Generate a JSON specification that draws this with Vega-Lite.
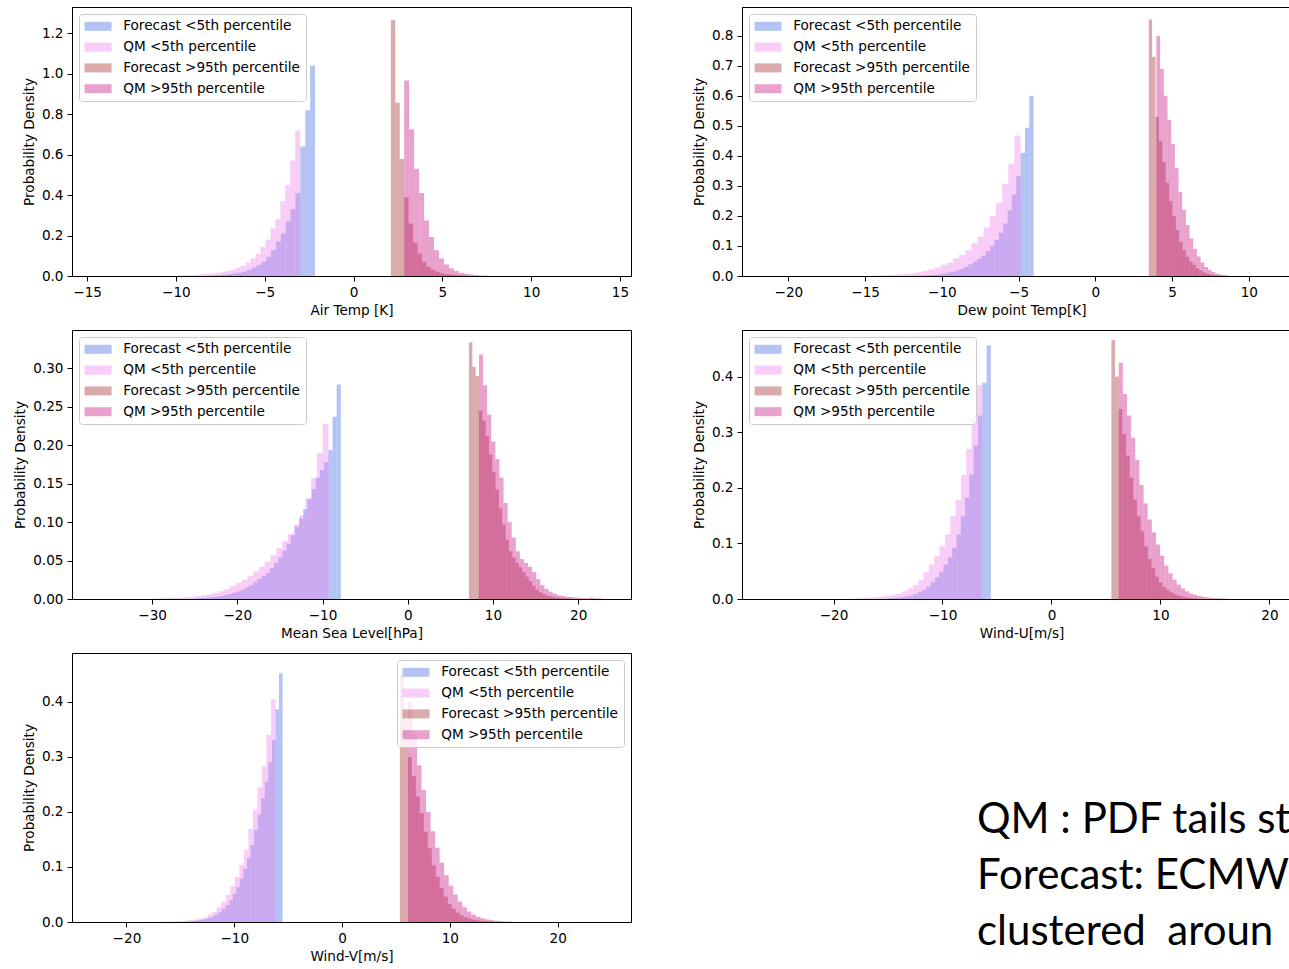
{
"$schema": "https://vega.github.io/schema/vega-lite/v6.json",
"background": "white",
"padding": {"left": 13, "top": 6, "right": 0, "bottom": 0},
"bounds": "flush",
"columns": 2,
"spacing": {"row": 54, "column": 111},
"resolve": {"scale": {"x": "independent", "y": "independent", "color": "independent"}, "legend": {"color": "independent"}},
"datasets": {
"air": [
{"s":"F5","a":-8.22,"b":-7.945,"d":0.002},{"s":"F5","a":-7.945,"b":-7.67,"d":0.003},{"s":"F5","a":-7.67,"b":-7.395,"d":0.004},{"s":"F5","a":-7.395,"b":-7.12,"d":0.006},{"s":"F5","a":-7.12,"b":-6.845,"d":0.009},{"s":"F5","a":-6.845,"b":-6.57,"d":0.012},{"s":"F5","a":-6.57,"b":-6.295,"d":0.016},{"s":"F5","a":-6.295,"b":-6.02,"d":0.021},{"s":"F5","a":-6.02,"b":-5.745,"d":0.03},{"s":"F5","a":-5.745,"b":-5.47,"d":0.041},{"s":"F5","a":-5.47,"b":-5.195,"d":0.054},{"s":"F5","a":-5.195,"b":-4.92,"d":0.07},{"s":"F5","a":-4.92,"b":-4.645,"d":0.095},{"s":"F5","a":-4.645,"b":-4.37,"d":0.128},{"s":"F5","a":-4.37,"b":-4.095,"d":0.17},{"s":"F5","a":-4.095,"b":-3.82,"d":0.21},{"s":"F5","a":-3.82,"b":-3.545,"d":0.27},{"s":"F5","a":-3.545,"b":-3.27,"d":0.33},{"s":"F5","a":-3.27,"b":-2.995,"d":0.41},{"s":"F5","a":-2.995,"b":-2.72,"d":0.64},{"s":"F5","a":-2.72,"b":-2.445,"d":0.82},{"s":"F5","a":-2.445,"b":-2.17,"d":1.04},
{"s":"Q5","a":-10.28,"b":-10.0,"d":0.001},{"s":"Q5","a":-10.0,"b":-9.72,"d":0.002},{"s":"Q5","a":-9.72,"b":-9.44,"d":0.003},{"s":"Q5","a":-9.44,"b":-9.16,"d":0.004},{"s":"Q5","a":-9.16,"b":-8.88,"d":0.005},{"s":"Q5","a":-8.88,"b":-8.6,"d":0.007},{"s":"Q5","a":-8.6,"b":-8.32,"d":0.009},{"s":"Q5","a":-8.32,"b":-8.04,"d":0.011},{"s":"Q5","a":-8.04,"b":-7.76,"d":0.013},{"s":"Q5","a":-7.76,"b":-7.48,"d":0.016},{"s":"Q5","a":-7.48,"b":-7.2,"d":0.02},{"s":"Q5","a":-7.2,"b":-6.92,"d":0.025},{"s":"Q5","a":-6.92,"b":-6.64,"d":0.031},{"s":"Q5","a":-6.64,"b":-6.36,"d":0.04},{"s":"Q5","a":-6.36,"b":-6.08,"d":0.051},{"s":"Q5","a":-6.08,"b":-5.8,"d":0.066},{"s":"Q5","a":-5.8,"b":-5.52,"d":0.087},{"s":"Q5","a":-5.52,"b":-5.24,"d":0.11},{"s":"Q5","a":-5.24,"b":-4.96,"d":0.144},{"s":"Q5","a":-4.96,"b":-4.68,"d":0.18},{"s":"Q5","a":-4.68,"b":-4.4,"d":0.235},{"s":"Q5","a":-4.4,"b":-4.12,"d":0.28},{"s":"Q5","a":-4.12,"b":-3.84,"d":0.37},{"s":"Q5","a":-3.84,"b":-3.56,"d":0.45},{"s":"Q5","a":-3.56,"b":-3.28,"d":0.57},{"s":"Q5","a":-3.28,"b":-3.0,"d":0.72},
{"s":"F95","a":2.1,"b":2.35,"d":1.265},{"s":"F95","a":2.35,"b":2.6,"d":0.857},{"s":"F95","a":2.6,"b":2.85,"d":0.579},{"s":"F95","a":2.85,"b":3.1,"d":0.39},{"s":"F95","a":3.1,"b":3.35,"d":0.26},{"s":"F95","a":3.35,"b":3.6,"d":0.164},{"s":"F95","a":3.6,"b":3.85,"d":0.111},{"s":"F95","a":3.85,"b":4.1,"d":0.07},{"s":"F95","a":4.1,"b":4.35,"d":0.046},{"s":"F95","a":4.35,"b":4.6,"d":0.03},{"s":"F95","a":4.6,"b":4.85,"d":0.021},{"s":"F95","a":4.85,"b":5.1,"d":0.014},{"s":"F95","a":5.1,"b":5.35,"d":0.01},{"s":"F95","a":5.35,"b":5.6,"d":0.007},{"s":"F95","a":5.6,"b":5.85,"d":0.005},{"s":"F95","a":5.85,"b":6.1,"d":0.003},{"s":"F95","a":6.1,"b":6.35,"d":0.002},
{"s":"Q95","a":2.85,"b":3.13,"d":0.967},{"s":"Q95","a":3.13,"b":3.41,"d":0.726},{"s":"Q95","a":3.41,"b":3.69,"d":0.53},{"s":"Q95","a":3.69,"b":3.97,"d":0.41},{"s":"Q95","a":3.97,"b":4.25,"d":0.275},{"s":"Q95","a":4.25,"b":4.53,"d":0.193},{"s":"Q95","a":4.53,"b":4.81,"d":0.128},{"s":"Q95","a":4.81,"b":5.09,"d":0.087},{"s":"Q95","a":5.09,"b":5.37,"d":0.057},{"s":"Q95","a":5.37,"b":5.65,"d":0.038},{"s":"Q95","a":5.65,"b":5.93,"d":0.025},{"s":"Q95","a":5.93,"b":6.21,"d":0.016},{"s":"Q95","a":6.21,"b":6.49,"d":0.011},{"s":"Q95","a":6.49,"b":6.77,"d":0.008},{"s":"Q95","a":6.77,"b":7.05,"d":0.005},{"s":"Q95","a":7.05,"b":7.33,"d":0.003},{"s":"Q95","a":7.33,"b":7.61,"d":0.002}
],
"dew": [
{"s":"F5","a":-11.944,"b":-11.661,"d":0.001},{"s":"F5","a":-11.661,"b":-11.378,"d":0.001},{"s":"F5","a":-11.378,"b":-11.095,"d":0.0015},{"s":"F5","a":-11.095,"b":-10.812,"d":0.0025},{"s":"F5","a":-10.812,"b":-10.529,"d":0.0035},{"s":"F5","a":-10.529,"b":-10.246,"d":0.0045},{"s":"F5","a":-10.246,"b":-9.963,"d":0.006},{"s":"F5","a":-9.963,"b":-9.68,"d":0.008},{"s":"F5","a":-9.68,"b":-9.397,"d":0.011},{"s":"F5","a":-9.397,"b":-9.114,"d":0.014},{"s":"F5","a":-9.114,"b":-8.831,"d":0.019},{"s":"F5","a":-8.831,"b":-8.548,"d":0.024},{"s":"F5","a":-8.548,"b":-8.265,"d":0.031},{"s":"F5","a":-8.265,"b":-7.982,"d":0.039},{"s":"F5","a":-7.982,"b":-7.699,"d":0.047},{"s":"F5","a":-7.699,"b":-7.416,"d":0.057},{"s":"F5","a":-7.416,"b":-7.133,"d":0.068},{"s":"F5","a":-7.133,"b":-6.85,"d":0.083},{"s":"F5","a":-6.85,"b":-6.567,"d":0.1},{"s":"F5","a":-6.567,"b":-6.284,"d":0.12},{"s":"F5","a":-6.284,"b":-6.001,"d":0.144},{"s":"F5","a":-6.001,"b":-5.718,"d":0.175},{"s":"F5","a":-5.718,"b":-5.435,"d":0.219},{"s":"F5","a":-5.435,"b":-5.152,"d":0.272},{"s":"F5","a":-5.152,"b":-4.869,"d":0.333},{"s":"F5","a":-4.869,"b":-4.586,"d":0.41},{"s":"F5","a":-4.586,"b":-4.303,"d":0.494},{"s":"F5","a":-4.303,"b":-4.02,"d":0.6},
{"s":"Q5","a":-14.47,"b":-14.07,"d":0.002},{"s":"Q5","a":-14.07,"b":-13.67,"d":0.002},{"s":"Q5","a":-13.67,"b":-13.27,"d":0.003},{"s":"Q5","a":-13.27,"b":-12.87,"d":0.004},{"s":"Q5","a":-12.87,"b":-12.47,"d":0.005},{"s":"Q5","a":-12.47,"b":-12.07,"d":0.007},{"s":"Q5","a":-12.07,"b":-11.67,"d":0.009},{"s":"Q5","a":-11.67,"b":-11.27,"d":0.012},{"s":"Q5","a":-11.27,"b":-10.87,"d":0.017},{"s":"Q5","a":-10.87,"b":-10.47,"d":0.022},{"s":"Q5","a":-10.47,"b":-10.07,"d":0.028},{"s":"Q5","a":-10.07,"b":-9.67,"d":0.037},{"s":"Q5","a":-9.67,"b":-9.27,"d":0.044},{"s":"Q5","a":-9.27,"b":-8.87,"d":0.059},{"s":"Q5","a":-8.87,"b":-8.47,"d":0.07},{"s":"Q5","a":-8.47,"b":-8.07,"d":0.086},{"s":"Q5","a":-8.07,"b":-7.67,"d":0.109},{"s":"Q5","a":-7.67,"b":-7.27,"d":0.131},{"s":"Q5","a":-7.27,"b":-6.87,"d":0.162},{"s":"Q5","a":-6.87,"b":-6.47,"d":0.2},{"s":"Q5","a":-6.47,"b":-6.07,"d":0.244},{"s":"Q5","a":-6.07,"b":-5.67,"d":0.306},{"s":"Q5","a":-5.67,"b":-5.27,"d":0.374},{"s":"Q5","a":-5.27,"b":-4.87,"d":0.468},
{"s":"F95","a":3.48,"b":3.7,"d":0.854},{"s":"F95","a":3.7,"b":3.92,"d":0.73},{"s":"F95","a":3.92,"b":4.14,"d":0.53},{"s":"F95","a":4.14,"b":4.36,"d":0.45},{"s":"F95","a":4.36,"b":4.58,"d":0.38},{"s":"F95","a":4.58,"b":4.8,"d":0.31},{"s":"F95","a":4.8,"b":5.02,"d":0.25},{"s":"F95","a":5.02,"b":5.24,"d":0.2},{"s":"F95","a":5.24,"b":5.46,"d":0.153},{"s":"F95","a":5.46,"b":5.68,"d":0.114},{"s":"F95","a":5.68,"b":5.9,"d":0.086},{"s":"F95","a":5.9,"b":6.12,"d":0.064},{"s":"F95","a":6.12,"b":6.34,"d":0.048},{"s":"F95","a":6.34,"b":6.56,"d":0.037},{"s":"F95","a":6.56,"b":6.78,"d":0.026},{"s":"F95","a":6.78,"b":7.0,"d":0.018},{"s":"F95","a":7.0,"b":7.22,"d":0.012},{"s":"F95","a":7.22,"b":7.44,"d":0.008},{"s":"F95","a":7.44,"b":7.66,"d":0.005},{"s":"F95","a":7.66,"b":7.88,"d":0.003},{"s":"F95","a":7.88,"b":8.1,"d":0.002},
{"s":"Q95","a":3.98,"b":4.22,"d":0.8},{"s":"Q95","a":4.22,"b":4.46,"d":0.69},{"s":"Q95","a":4.46,"b":4.7,"d":0.6},{"s":"Q95","a":4.7,"b":4.94,"d":0.52},{"s":"Q95","a":4.94,"b":5.18,"d":0.44},{"s":"Q95","a":5.18,"b":5.42,"d":0.36},{"s":"Q95","a":5.42,"b":5.66,"d":0.28},{"s":"Q95","a":5.66,"b":5.9,"d":0.22},{"s":"Q95","a":5.9,"b":6.14,"d":0.17},{"s":"Q95","a":6.14,"b":6.38,"d":0.125},{"s":"Q95","a":6.38,"b":6.62,"d":0.09},{"s":"Q95","a":6.62,"b":6.86,"d":0.065},{"s":"Q95","a":6.86,"b":7.1,"d":0.045},{"s":"Q95","a":7.1,"b":7.34,"d":0.03},{"s":"Q95","a":7.34,"b":7.58,"d":0.02},{"s":"Q95","a":7.58,"b":7.82,"d":0.013},{"s":"Q95","a":7.82,"b":8.06,"d":0.008},{"s":"Q95","a":8.06,"b":8.3,"d":0.005},{"s":"Q95","a":8.3,"b":8.54,"d":0.003},{"s":"Q95","a":8.54,"b":8.78,"d":0.002}
],
"msl": [
{"s":"F5","a":-25.0,"b":-24.51,"d":0.0008},{"s":"F5","a":-24.51,"b":-24.02,"d":0.0011},{"s":"F5","a":-24.02,"b":-23.53,"d":0.0015},{"s":"F5","a":-23.53,"b":-23.04,"d":0.002},{"s":"F5","a":-23.04,"b":-22.55,"d":0.0025},{"s":"F5","a":-22.55,"b":-22.06,"d":0.0032},{"s":"F5","a":-22.06,"b":-21.57,"d":0.004},{"s":"F5","a":-21.57,"b":-21.08,"d":0.005},{"s":"F5","a":-21.08,"b":-20.59,"d":0.0065},{"s":"F5","a":-20.59,"b":-20.1,"d":0.008},{"s":"F5","a":-20.1,"b":-19.61,"d":0.01},{"s":"F5","a":-19.61,"b":-19.12,"d":0.012},{"s":"F5","a":-19.12,"b":-18.63,"d":0.015},{"s":"F5","a":-18.63,"b":-18.14,"d":0.018},{"s":"F5","a":-18.14,"b":-17.65,"d":0.022},{"s":"F5","a":-17.65,"b":-17.16,"d":0.026},{"s":"F5","a":-17.16,"b":-16.67,"d":0.03},{"s":"F5","a":-16.67,"b":-16.18,"d":0.034},{"s":"F5","a":-16.18,"b":-15.69,"d":0.04},{"s":"F5","a":-15.69,"b":-15.2,"d":0.047},{"s":"F5","a":-15.2,"b":-14.71,"d":0.054},{"s":"F5","a":-14.71,"b":-14.22,"d":0.063},{"s":"F5","a":-14.22,"b":-13.73,"d":0.072},{"s":"F5","a":-13.73,"b":-13.24,"d":0.083},{"s":"F5","a":-13.24,"b":-12.75,"d":0.094},{"s":"F5","a":-12.75,"b":-12.26,"d":0.105},{"s":"F5","a":-12.26,"b":-11.77,"d":0.117},{"s":"F5","a":-11.77,"b":-11.28,"d":0.13},{"s":"F5","a":-11.28,"b":-10.79,"d":0.143},{"s":"F5","a":-10.79,"b":-10.3,"d":0.158},{"s":"F5","a":-10.3,"b":-9.81,"d":0.168},{"s":"F5","a":-9.81,"b":-9.32,"d":0.178},{"s":"F5","a":-9.32,"b":-8.83,"d":0.194},{"s":"F5","a":-8.83,"b":-8.34,"d":0.237},{"s":"F5","a":-8.34,"b":-7.85,"d":0.279},
{"s":"Q5","a":-29.7,"b":-29.02,"d":0.0006},{"s":"Q5","a":-29.02,"b":-28.34,"d":0.0008},{"s":"Q5","a":-28.34,"b":-27.66,"d":0.001},{"s":"Q5","a":-27.66,"b":-26.98,"d":0.0013},{"s":"Q5","a":-26.98,"b":-26.3,"d":0.0017},{"s":"Q5","a":-26.3,"b":-25.62,"d":0.0022},{"s":"Q5","a":-25.62,"b":-24.94,"d":0.0028},{"s":"Q5","a":-24.94,"b":-24.26,"d":0.0036},{"s":"Q5","a":-24.26,"b":-23.58,"d":0.0046},{"s":"Q5","a":-23.58,"b":-22.9,"d":0.006},{"s":"Q5","a":-22.9,"b":-22.22,"d":0.0078},{"s":"Q5","a":-22.22,"b":-21.54,"d":0.01},{"s":"Q5","a":-21.54,"b":-20.86,"d":0.013},{"s":"Q5","a":-20.86,"b":-20.18,"d":0.017},{"s":"Q5","a":-20.18,"b":-19.5,"d":0.021},{"s":"Q5","a":-19.5,"b":-18.82,"d":0.025},{"s":"Q5","a":-18.82,"b":-18.14,"d":0.03},{"s":"Q5","a":-18.14,"b":-17.46,"d":0.036},{"s":"Q5","a":-17.46,"b":-16.78,"d":0.042},{"s":"Q5","a":-16.78,"b":-16.1,"d":0.049},{"s":"Q5","a":-16.1,"b":-15.42,"d":0.057},{"s":"Q5","a":-15.42,"b":-14.74,"d":0.066},{"s":"Q5","a":-14.74,"b":-14.06,"d":0.075},{"s":"Q5","a":-14.06,"b":-13.38,"d":0.085},{"s":"Q5","a":-13.38,"b":-12.7,"d":0.097},{"s":"Q5","a":-12.7,"b":-12.02,"d":0.109},{"s":"Q5","a":-12.02,"b":-11.34,"d":0.131},{"s":"Q5","a":-11.34,"b":-10.66,"d":0.157},{"s":"Q5","a":-10.66,"b":-9.98,"d":0.19},{"s":"Q5","a":-9.98,"b":-9.3,"d":0.228},
{"s":"F95","a":7.19,"b":7.58,"d":0.334},{"s":"F95","a":7.58,"b":7.97,"d":0.302},{"s":"F95","a":7.97,"b":8.36,"d":0.29},{"s":"F95","a":8.36,"b":8.75,"d":0.245},{"s":"F95","a":8.75,"b":9.14,"d":0.232},{"s":"F95","a":9.14,"b":9.53,"d":0.212},{"s":"F95","a":9.53,"b":9.92,"d":0.188},{"s":"F95","a":9.92,"b":10.31,"d":0.165},{"s":"F95","a":10.31,"b":10.7,"d":0.142},{"s":"F95","a":10.7,"b":11.09,"d":0.118},{"s":"F95","a":11.09,"b":11.48,"d":0.097},{"s":"F95","a":11.48,"b":11.87,"d":0.077},{"s":"F95","a":11.87,"b":12.26,"d":0.062},{"s":"F95","a":12.26,"b":12.65,"d":0.054},{"s":"F95","a":12.65,"b":13.04,"d":0.047},{"s":"F95","a":13.04,"b":13.43,"d":0.041},{"s":"F95","a":13.43,"b":13.82,"d":0.035},{"s":"F95","a":13.82,"b":14.21,"d":0.029},{"s":"F95","a":14.21,"b":14.6,"d":0.023},{"s":"F95","a":14.6,"b":14.99,"d":0.017},{"s":"F95","a":14.99,"b":15.38,"d":0.012},{"s":"F95","a":15.38,"b":15.77,"d":0.0088},{"s":"F95","a":15.77,"b":16.16,"d":0.0065},{"s":"F95","a":16.16,"b":16.55,"d":0.0048},{"s":"F95","a":16.55,"b":16.94,"d":0.0036},{"s":"F95","a":16.94,"b":17.33,"d":0.0027},{"s":"F95","a":17.33,"b":17.72,"d":0.002},{"s":"F95","a":17.72,"b":18.11,"d":0.0015},{"s":"F95","a":18.11,"b":18.5,"d":0.001},{"s":"F95","a":18.5,"b":18.89,"d":0.0007},{"s":"F95","a":18.89,"b":19.28,"d":0.0005},
{"s":"Q95","a":8.36,"b":8.84,"d":0.318},{"s":"Q95","a":8.84,"b":9.32,"d":0.278},{"s":"Q95","a":9.32,"b":9.8,"d":0.24},{"s":"Q95","a":9.8,"b":10.28,"d":0.205},{"s":"Q95","a":10.28,"b":10.76,"d":0.182},{"s":"Q95","a":10.76,"b":11.24,"d":0.158},{"s":"Q95","a":11.24,"b":11.72,"d":0.125},{"s":"Q95","a":11.72,"b":12.2,"d":0.1},{"s":"Q95","a":12.2,"b":12.68,"d":0.08},{"s":"Q95","a":12.68,"b":13.16,"d":0.062},{"s":"Q95","a":13.16,"b":13.64,"d":0.052},{"s":"Q95","a":13.64,"b":14.12,"d":0.047},{"s":"Q95","a":14.12,"b":14.6,"d":0.042},{"s":"Q95","a":14.6,"b":15.08,"d":0.035},{"s":"Q95","a":15.08,"b":15.56,"d":0.026},{"s":"Q95","a":15.56,"b":16.04,"d":0.018},{"s":"Q95","a":16.04,"b":16.52,"d":0.013},{"s":"Q95","a":16.52,"b":17.0,"d":0.0095},{"s":"Q95","a":17.0,"b":17.48,"d":0.007},{"s":"Q95","a":17.48,"b":17.96,"d":0.005},{"s":"Q95","a":17.96,"b":18.44,"d":0.004},{"s":"Q95","a":18.44,"b":18.92,"d":0.003},{"s":"Q95","a":18.92,"b":19.4,"d":0.0025},{"s":"Q95","a":19.4,"b":19.88,"d":0.002},{"s":"Q95","a":19.88,"b":20.36,"d":0.0016},{"s":"Q95","a":20.36,"b":20.84,"d":0.0012},{"s":"Q95","a":20.84,"b":21.32,"d":0.001},{"s":"Q95","a":21.32,"b":21.8,"d":0.0018},{"s":"Q95","a":21.8,"b":22.28,"d":0.0008},{"s":"Q95","a":22.28,"b":22.76,"d":0.0008}
],
"windu": [
{"s":"F5","a":-15.04,"b":-14.645,"d":0.001},{"s":"F5","a":-14.645,"b":-14.25,"d":0.0015},{"s":"F5","a":-14.25,"b":-13.855,"d":0.002},{"s":"F5","a":-13.855,"b":-13.46,"d":0.003},{"s":"F5","a":-13.46,"b":-13.065,"d":0.0045},{"s":"F5","a":-13.065,"b":-12.67,"d":0.006},{"s":"F5","a":-12.67,"b":-12.275,"d":0.0085},{"s":"F5","a":-12.275,"b":-11.88,"d":0.012},{"s":"F5","a":-11.88,"b":-11.485,"d":0.016},{"s":"F5","a":-11.485,"b":-11.09,"d":0.022},{"s":"F5","a":-11.09,"b":-10.695,"d":0.03},{"s":"F5","a":-10.695,"b":-10.3,"d":0.039},{"s":"F5","a":-10.3,"b":-9.905,"d":0.049},{"s":"F5","a":-9.905,"b":-9.51,"d":0.062},{"s":"F5","a":-9.51,"b":-9.115,"d":0.075},{"s":"F5","a":-9.115,"b":-8.72,"d":0.092},{"s":"F5","a":-8.72,"b":-8.325,"d":0.116},{"s":"F5","a":-8.325,"b":-7.93,"d":0.149},{"s":"F5","a":-7.93,"b":-7.535,"d":0.182},{"s":"F5","a":-7.535,"b":-7.14,"d":0.224},{"s":"F5","a":-7.14,"b":-6.745,"d":0.276},{"s":"F5","a":-6.745,"b":-6.35,"d":0.33},{"s":"F5","a":-6.35,"b":-5.955,"d":0.389},{"s":"F5","a":-5.955,"b":-5.56,"d":0.456},
{"s":"Q5","a":-18.11,"b":-17.62,"d":0.001},{"s":"Q5","a":-17.62,"b":-17.13,"d":0.0013},{"s":"Q5","a":-17.13,"b":-16.64,"d":0.0018},{"s":"Q5","a":-16.64,"b":-16.15,"d":0.0024},{"s":"Q5","a":-16.15,"b":-15.66,"d":0.0033},{"s":"Q5","a":-15.66,"b":-15.17,"d":0.0045},{"s":"Q5","a":-15.17,"b":-14.68,"d":0.006},{"s":"Q5","a":-14.68,"b":-14.19,"d":0.0078},{"s":"Q5","a":-14.19,"b":-13.7,"d":0.01},{"s":"Q5","a":-13.7,"b":-13.21,"d":0.014},{"s":"Q5","a":-13.21,"b":-12.72,"d":0.019},{"s":"Q5","a":-12.72,"b":-12.23,"d":0.025},{"s":"Q5","a":-12.23,"b":-11.74,"d":0.034},{"s":"Q5","a":-11.74,"b":-11.25,"d":0.048},{"s":"Q5","a":-11.25,"b":-10.76,"d":0.062},{"s":"Q5","a":-10.76,"b":-10.27,"d":0.077},{"s":"Q5","a":-10.27,"b":-9.78,"d":0.095},{"s":"Q5","a":-9.78,"b":-9.29,"d":0.116},{"s":"Q5","a":-9.29,"b":-8.8,"d":0.149},{"s":"Q5","a":-8.8,"b":-8.31,"d":0.178},{"s":"Q5","a":-8.31,"b":-7.82,"d":0.223},{"s":"Q5","a":-7.82,"b":-7.33,"d":0.27},{"s":"Q5","a":-7.33,"b":-6.84,"d":0.33},{"s":"Q5","a":-6.84,"b":-6.35,"d":0.385},
{"s":"F95","a":5.5,"b":5.835,"d":0.466},{"s":"F95","a":5.835,"b":6.17,"d":0.4},{"s":"F95","a":6.17,"b":6.505,"d":0.342},{"s":"F95","a":6.505,"b":6.84,"d":0.297},{"s":"F95","a":6.84,"b":7.175,"d":0.258},{"s":"F95","a":7.175,"b":7.51,"d":0.218},{"s":"F95","a":7.51,"b":7.845,"d":0.179},{"s":"F95","a":7.845,"b":8.18,"d":0.149},{"s":"F95","a":8.18,"b":8.515,"d":0.122},{"s":"F95","a":8.515,"b":8.85,"d":0.095},{"s":"F95","a":8.85,"b":9.185,"d":0.072},{"s":"F95","a":9.185,"b":9.52,"d":0.056},{"s":"F95","a":9.52,"b":9.855,"d":0.04},{"s":"F95","a":9.855,"b":10.19,"d":0.03},{"s":"F95","a":10.19,"b":10.525,"d":0.022},{"s":"F95","a":10.525,"b":10.86,"d":0.016},{"s":"F95","a":10.86,"b":11.195,"d":0.012},{"s":"F95","a":11.195,"b":11.53,"d":0.0085},{"s":"F95","a":11.53,"b":11.865,"d":0.006},{"s":"F95","a":11.865,"b":12.2,"d":0.0045},{"s":"F95","a":12.2,"b":12.535,"d":0.003},{"s":"F95","a":12.535,"b":12.87,"d":0.002},{"s":"F95","a":12.87,"b":13.205,"d":0.0015},{"s":"F95","a":13.205,"b":13.54,"d":0.001},
{"s":"Q95","a":6.17,"b":6.55,"d":0.425},{"s":"Q95","a":6.55,"b":6.93,"d":0.369},{"s":"Q95","a":6.93,"b":7.31,"d":0.33},{"s":"Q95","a":7.31,"b":7.69,"d":0.29},{"s":"Q95","a":7.69,"b":8.07,"d":0.25},{"s":"Q95","a":8.07,"b":8.45,"d":0.205},{"s":"Q95","a":8.45,"b":8.83,"d":0.172},{"s":"Q95","a":8.83,"b":9.21,"d":0.143},{"s":"Q95","a":9.21,"b":9.59,"d":0.12},{"s":"Q95","a":9.59,"b":9.97,"d":0.098},{"s":"Q95","a":9.97,"b":10.35,"d":0.078},{"s":"Q95","a":10.35,"b":10.73,"d":0.06},{"s":"Q95","a":10.73,"b":11.11,"d":0.046},{"s":"Q95","a":11.11,"b":11.49,"d":0.035},{"s":"Q95","a":11.49,"b":11.87,"d":0.026},{"s":"Q95","a":11.87,"b":12.25,"d":0.019},{"s":"Q95","a":12.25,"b":12.63,"d":0.014},{"s":"Q95","a":12.63,"b":13.01,"d":0.01},{"s":"Q95","a":13.01,"b":13.39,"d":0.0075},{"s":"Q95","a":13.39,"b":13.77,"d":0.0055},{"s":"Q95","a":13.77,"b":14.15,"d":0.004},{"s":"Q95","a":14.15,"b":14.53,"d":0.003},{"s":"Q95","a":14.53,"b":14.91,"d":0.002},{"s":"Q95","a":14.91,"b":15.29,"d":0.0015},{"s":"Q95","a":15.29,"b":15.67,"d":0.001},{"s":"Q95","a":15.67,"b":16.05,"d":0.0008}
],
"windv": [
{"s":"F5","a":-14.43,"b":-14.1,"d":0.001},{"s":"F5","a":-14.1,"b":-13.77,"d":0.0015},{"s":"F5","a":-13.77,"b":-13.44,"d":0.002},{"s":"F5","a":-13.44,"b":-13.11,"d":0.003},{"s":"F5","a":-13.11,"b":-12.78,"d":0.004},{"s":"F5","a":-12.78,"b":-12.45,"d":0.0055},{"s":"F5","a":-12.45,"b":-12.12,"d":0.0075},{"s":"F5","a":-12.12,"b":-11.79,"d":0.01},{"s":"F5","a":-11.79,"b":-11.46,"d":0.014},{"s":"F5","a":-11.46,"b":-11.13,"d":0.018},{"s":"F5","a":-11.13,"b":-10.8,"d":0.024},{"s":"F5","a":-10.8,"b":-10.47,"d":0.031},{"s":"F5","a":-10.47,"b":-10.14,"d":0.04},{"s":"F5","a":-10.14,"b":-9.81,"d":0.051},{"s":"F5","a":-9.81,"b":-9.48,"d":0.064},{"s":"F5","a":-9.48,"b":-9.15,"d":0.079},{"s":"F5","a":-9.15,"b":-8.82,"d":0.097},{"s":"F5","a":-8.82,"b":-8.49,"d":0.117},{"s":"F5","a":-8.49,"b":-8.16,"d":0.14},{"s":"F5","a":-8.16,"b":-7.83,"d":0.167},{"s":"F5","a":-7.83,"b":-7.5,"d":0.195},{"s":"F5","a":-7.5,"b":-7.17,"d":0.225},{"s":"F5","a":-7.17,"b":-6.84,"d":0.255},{"s":"F5","a":-6.84,"b":-6.51,"d":0.29},{"s":"F5","a":-6.51,"b":-6.18,"d":0.33},{"s":"F5","a":-6.18,"b":-5.85,"d":0.387},{"s":"F5","a":-5.85,"b":-5.52,"d":0.452},
{"s":"Q5","a":-16.67,"b":-16.25,"d":0.0006},{"s":"Q5","a":-16.25,"b":-15.83,"d":0.0008},{"s":"Q5","a":-15.83,"b":-15.41,"d":0.001},{"s":"Q5","a":-15.41,"b":-14.99,"d":0.0014},{"s":"Q5","a":-14.99,"b":-14.57,"d":0.0019},{"s":"Q5","a":-14.57,"b":-14.15,"d":0.0026},{"s":"Q5","a":-14.15,"b":-13.73,"d":0.0036},{"s":"Q5","a":-13.73,"b":-13.31,"d":0.0048},{"s":"Q5","a":-13.31,"b":-12.89,"d":0.0065},{"s":"Q5","a":-12.89,"b":-12.47,"d":0.009},{"s":"Q5","a":-12.47,"b":-12.05,"d":0.0134},{"s":"Q5","a":-12.05,"b":-11.63,"d":0.018},{"s":"Q5","a":-11.63,"b":-11.21,"d":0.027},{"s":"Q5","a":-11.21,"b":-10.79,"d":0.0365},{"s":"Q5","a":-10.79,"b":-10.37,"d":0.049},{"s":"Q5","a":-10.37,"b":-9.95,"d":0.066},{"s":"Q5","a":-9.95,"b":-9.53,"d":0.082},{"s":"Q5","a":-9.53,"b":-9.11,"d":0.1035},{"s":"Q5","a":-9.11,"b":-8.69,"d":0.131},{"s":"Q5","a":-8.69,"b":-8.27,"d":0.169},{"s":"Q5","a":-8.27,"b":-7.85,"d":0.204},{"s":"Q5","a":-7.85,"b":-7.43,"d":0.245},{"s":"Q5","a":-7.43,"b":-7.01,"d":0.283},{"s":"Q5","a":-7.01,"b":-6.59,"d":0.34},{"s":"Q5","a":-6.59,"b":-6.17,"d":0.405},
{"s":"F95","a":5.36,"b":5.73,"d":0.45},{"s":"F95","a":5.73,"b":6.1,"d":0.37},{"s":"F95","a":6.1,"b":6.47,"d":0.3},{"s":"F95","a":6.47,"b":6.84,"d":0.265},{"s":"F95","a":6.84,"b":7.21,"d":0.228},{"s":"F95","a":7.21,"b":7.58,"d":0.198},{"s":"F95","a":7.58,"b":7.95,"d":0.164},{"s":"F95","a":7.95,"b":8.32,"d":0.134},{"s":"F95","a":8.32,"b":8.69,"d":0.103},{"s":"F95","a":8.69,"b":9.06,"d":0.082},{"s":"F95","a":9.06,"b":9.43,"d":0.062},{"s":"F95","a":9.43,"b":9.8,"d":0.046},{"s":"F95","a":9.8,"b":10.17,"d":0.033},{"s":"F95","a":10.17,"b":10.54,"d":0.024},{"s":"F95","a":10.54,"b":10.91,"d":0.017},{"s":"F95","a":10.91,"b":11.28,"d":0.012},{"s":"F95","a":11.28,"b":11.65,"d":0.0085},{"s":"F95","a":11.65,"b":12.02,"d":0.006},{"s":"F95","a":12.02,"b":12.39,"d":0.0042},{"s":"F95","a":12.39,"b":12.76,"d":0.003},{"s":"F95","a":12.76,"b":13.13,"d":0.002},{"s":"F95","a":13.13,"b":13.5,"d":0.0014},{"s":"F95","a":13.5,"b":13.87,"d":0.001},
{"s":"Q95","a":6.11,"b":6.53,"d":0.4},{"s":"Q95","a":6.53,"b":6.95,"d":0.34},{"s":"Q95","a":6.95,"b":7.37,"d":0.285},{"s":"Q95","a":7.37,"b":7.79,"d":0.24},{"s":"Q95","a":7.79,"b":8.21,"d":0.2},{"s":"Q95","a":8.21,"b":8.63,"d":0.165},{"s":"Q95","a":8.63,"b":9.05,"d":0.135},{"s":"Q95","a":9.05,"b":9.47,"d":0.108},{"s":"Q95","a":9.47,"b":9.89,"d":0.085},{"s":"Q95","a":9.89,"b":10.31,"d":0.066},{"s":"Q95","a":10.31,"b":10.73,"d":0.05},{"s":"Q95","a":10.73,"b":11.15,"d":0.037},{"s":"Q95","a":11.15,"b":11.57,"d":0.027},{"s":"Q95","a":11.57,"b":11.99,"d":0.019},{"s":"Q95","a":11.99,"b":12.41,"d":0.0135},{"s":"Q95","a":12.41,"b":12.83,"d":0.0095},{"s":"Q95","a":12.83,"b":13.25,"d":0.0068},{"s":"Q95","a":13.25,"b":13.67,"d":0.0048},{"s":"Q95","a":13.67,"b":14.09,"d":0.0034},{"s":"Q95","a":14.09,"b":14.51,"d":0.0024},{"s":"Q95","a":14.51,"b":14.93,"d":0.0017},{"s":"Q95","a":14.93,"b":15.35,"d":0.0012},{"s":"Q95","a":15.35,"b":15.77,"d":0.0008}
],
"note": [
{"line": 1, "c": 0.4204, "t": "QM : PDF tails st"},
{"line": 2, "c": 0.4204, "t": "Forecast: ECMW"},
{"line": 3, "c": 0.4204, "t": "clustered \u00a0aroun"}
]
},
"concat": [
{
"width": 559, "height": 269,
"data": {"name": "air"},
"mark": {"type": "bar", "opacity": 0.4, "clip": true},
"encoding": {
"x": {"field": "a", "type": "quantitative", "scale": {"domain": [-15.85, 15.62], "nice": false, "zero": false, "padding": 0}, "axis": {"title": "Air Temp [K]", "values": [-15, -10, -5, 0, 5, 10, 15], "labelExpr": "datum.value < 0 ? '−' + format(-datum.value, 'd') : format(datum.value, 'd')"}},
"x2": {"field": "b"},
"y": {"field": "d", "type": "quantitative", "scale": {"domain": [0, 1.33], "nice": false, "padding": 0}, "axis": {"title": "Probability Density", "values": [0, 0.2, 0.4, 0.6, 0.8, 1.0, 1.2], "format": ".1f"}},
"y2": {"datum": 0},
"color": {"field": "s", "type": "nominal", "scale": {"domain": ["F5", "Q5", "F95", "Q95"], "range": ["#4169e1", "#ee82ee", "#a52a2a", "#c71585"]}, "legend": {"title": null, "orient": "top-left", "labelExpr": "datum.label == 'F5' ? 'Forecast <5th percentile' : datum.label == 'Q5' ? 'QM <5th percentile' : datum.label == 'F95' ? 'Forecast >95th percentile' : 'QM >95th percentile'"}}
}
},
{
"width": 559, "height": 269,
"data": {"name": "dew"},
"mark": {"type": "bar", "opacity": 0.4, "clip": true},
"encoding": {
"x": {"field": "a", "type": "quantitative", "scale": {"domain": [-23.02, 13.4], "nice": false, "zero": false, "padding": 0}, "axis": {"title": "Dew point Temp[K]", "values": [-20, -15, -10, -5, 0, 5, 10], "labelExpr": "datum.value < 0 ? '−' + format(-datum.value, 'd') : format(datum.value, 'd')"}},
"x2": {"field": "b"},
"y": {"field": "d", "type": "quantitative", "scale": {"domain": [0, 0.896], "nice": false, "padding": 0}, "axis": {"title": "Probability Density", "values": [0, 0.1, 0.2, 0.3, 0.4, 0.5, 0.6, 0.7, 0.8], "format": ".1f"}},
"y2": {"datum": 0},
"color": {"field": "s", "type": "nominal", "scale": {"domain": ["F5", "Q5", "F95", "Q95"], "range": ["#4169e1", "#ee82ee", "#a52a2a", "#c71585"]}, "legend": {"title": null, "orient": "top-left", "labelExpr": "datum.label == 'F5' ? 'Forecast <5th percentile' : datum.label == 'Q5' ? 'QM <5th percentile' : datum.label == 'F95' ? 'Forecast >95th percentile' : 'QM >95th percentile'"}}
}
},
{
"width": 559, "height": 269,
"data": {"name": "msl"},
"mark": {"type": "bar", "opacity": 0.4, "clip": true},
"encoding": {
"x": {"field": "a", "type": "quantitative", "scale": {"domain": [-39.4, 26.2], "nice": false, "zero": false, "padding": 0}, "axis": {"title": "Mean Sea Level[hPa]", "values": [-30, -20, -10, 0, 10, 20], "labelExpr": "datum.value < 0 ? '−' + format(-datum.value, 'd') : format(datum.value, 'd')"}},
"x2": {"field": "b"},
"y": {"field": "d", "type": "quantitative", "scale": {"domain": [0, 0.35], "nice": false, "padding": 0}, "axis": {"title": "Probability Density", "values": [0, 0.05, 0.1, 0.15, 0.2, 0.25, 0.3], "format": ".2f"}},
"y2": {"datum": 0},
"color": {"field": "s", "type": "nominal", "scale": {"domain": ["F5", "Q5", "F95", "Q95"], "range": ["#4169e1", "#ee82ee", "#a52a2a", "#c71585"]}, "legend": {"title": null, "orient": "top-left", "labelExpr": "datum.label == 'F5' ? 'Forecast <5th percentile' : datum.label == 'Q5' ? 'QM <5th percentile' : datum.label == 'F95' ? 'Forecast >95th percentile' : 'QM >95th percentile'"}}
}
},
{
"width": 559, "height": 269,
"data": {"name": "windu"},
"mark": {"type": "bar", "opacity": 0.4, "clip": true},
"encoding": {
"x": {"field": "a", "type": "quantitative", "scale": {"domain": [-28.4, 22.9], "nice": false, "zero": false, "padding": 0}, "axis": {"title": "Wind-U[m/s]", "values": [-20, -10, 0, 10, 20], "labelExpr": "datum.value < 0 ? '−' + format(-datum.value, 'd') : format(datum.value, 'd')"}},
"x2": {"field": "b"},
"y": {"field": "d", "type": "quantitative", "scale": {"domain": [0, 0.484], "nice": false, "padding": 0}, "axis": {"title": "Probability Density", "values": [0, 0.1, 0.2, 0.3, 0.4], "format": ".1f"}},
"y2": {"datum": 0},
"color": {"field": "s", "type": "nominal", "scale": {"domain": ["F5", "Q5", "F95", "Q95"], "range": ["#4169e1", "#ee82ee", "#a52a2a", "#c71585"]}, "legend": {"title": null, "orient": "top-left", "labelExpr": "datum.label == 'F5' ? 'Forecast <5th percentile' : datum.label == 'Q5' ? 'QM <5th percentile' : datum.label == 'F95' ? 'Forecast >95th percentile' : 'QM >95th percentile'"}}
}
},
{
"width": 559, "height": 269,
"data": {"name": "windv"},
"mark": {"type": "bar", "opacity": 0.4, "clip": true},
"encoding": {
"x": {"field": "a", "type": "quantitative", "scale": {"domain": [-25.05, 26.8], "nice": false, "zero": false, "padding": 0}, "axis": {"title": "Wind-V[m/s]", "values": [-20, -10, 0, 10, 20], "labelExpr": "datum.value < 0 ? '−' + format(-datum.value, 'd') : format(datum.value, 'd')"}},
"x2": {"field": "b"},
"y": {"field": "d", "type": "quantitative", "scale": {"domain": [0, 0.489], "nice": false, "padding": 0}, "axis": {"title": "Probability Density", "values": [0, 0.1, 0.2, 0.3, 0.4], "format": ".1f"}},
"y2": {"datum": 0},
"color": {"field": "s", "type": "nominal", "scale": {"domain": ["F5", "Q5", "F95", "Q95"], "range": ["#4169e1", "#ee82ee", "#a52a2a", "#c71585"]}, "legend": {"title": null, "orient": "top-right", "offset": 7, "labelExpr": "datum.label == 'F5' ? 'Forecast <5th percentile' : datum.label == 'Q5' ? 'QM <5th percentile' : datum.label == 'F95' ? 'Forecast >95th percentile' : 'QM >95th percentile'"}}
}
},
{
"width": 559, "height": 269,
"view": {"stroke": null},
"data": {"name": "note"},
"mark": {"type": "text", "align": "left", "baseline": "alphabetic", "font": "Lato", "fontSize": 42, "color": "#000"},
"encoding": {
"x": {"field": "c", "type": "quantitative", "scale": {"domain": [0, 1], "nice": false, "zero": false}, "axis": null},
"y": {"field": "line", "type": "quantitative", "scale": {"domain": [-2.2054, 2.598], "reverse": true, "nice": false, "zero": false}, "axis": null},
"text": {"field": "t"}
}
}
],
"config": {
"view": {"stroke": "#000", "strokeWidth": 1},
"font": "DejaVu Sans",
"axis": {"domainColor": "#000", "domainWidth": 1, "tickColor": "#000", "tickSize": 5, "tickWidth": 1, "labelFont": "DejaVu Sans", "labelFontSize": 13.6, "labelColor": "#000", "labelPadding": 4, "titleFont": "DejaVu Sans", "titleFontSize": 13.6, "titleFontWeight": "normal", "titleColor": "#000", "titlePadding": 5, "grid": false, "labelFlush": false, "labelOverlap": false},
"legend": {"symbolType": "M-1,-0.667H3V0.667H-1Z", "symbolSize": 182.25, "symbolOpacity": 0.4, "symbolStrokeWidth": 0, "labelFont": "DejaVu Sans", "labelFontSize": 13.6, "labelColor": "#000", "labelOffset": 24.9, "labelLimit": 400, "rowPadding": 6.8, "padding": 5.3, "fillColor": "rgba(255,255,255,0.8)", "strokeColor": "#cccccc", "cornerRadius": 3, "offset": 6.5}
}
}
